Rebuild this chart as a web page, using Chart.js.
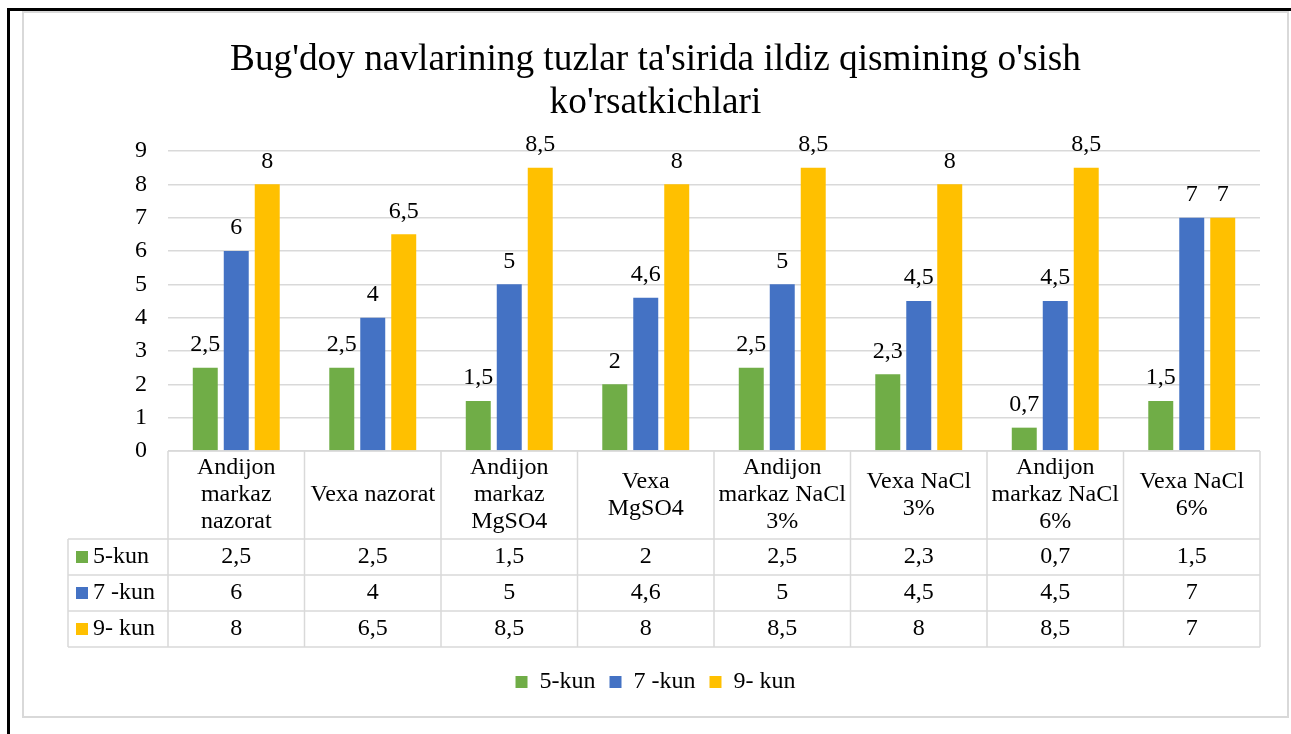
<!DOCTYPE html>
<html>
<head>
<meta charset="utf-8">
<script src="https://cdn.jsdelivr.net/npm/chart.js@4.4.1/dist/chart.umd.min.js"></script>
<style>
  body { margin: 0; background: #fff; }
  #frame { position: absolute; left: 7px; top: 8px; right: 0; bottom: 0; border-top: 3px solid #000; border-left: 3px solid #000; }
  #wrap { position: absolute; left: 22px; top: 11px; width: 1267px; height: 707px; }
</style>
</head>
<body>
<div id="frame"></div>
<div id="wrap"><canvas id="myChart" width="1267" height="707"></canvas></div>
<script>
// chart data
const categories = [
  ['Andijon', 'markaz', 'nazorat'],
  ['Vexa nazorat'],
  ['Andijon', 'markaz', 'MgSO4'],
  ['Vexa', 'MgSO4'],
  ['Andijon', 'markaz NaCl', '3%'],
  ['Vexa NaCl', '3%'],
  ['Andijon', 'markaz NaCl', '6%'],
  ['Vexa NaCl', '6%']
];
const seriesNames = ['5-kun', '7 -kun', '9- kun'];
const kun5 = [2.5, 2.5, 1.5, 2, 2.5, 2.3, 0.7, 1.5];
const kun7 = [6, 4, 5, 4.6, 5, 4.5, 4.5, 7];
const kun9 = [8, 6.5, 8.5, 8, 8.5, 8, 8.5, 7];
const colors = ['#70ad47', '#4472c4', '#ffc000'];
const titleLines = ["Bug'doy navlarining tuzlar ta'sirida ildiz qismining o'sish", "ko'rsatkichlari"];

const FONT = '"Liberation Serif", "Times New Roman", serif';
const fmt = v => String(v).replace('.', ',');

// gray chart border
const borderPlugin = {
  id: 'chartBorder',
  beforeDraw(chart) {
    const {ctx, width, height} = chart;
    ctx.save();
    ctx.fillStyle = '#fff';
    ctx.fillRect(0, 0, width, height);
    ctx.strokeStyle = '#d9d9d9';
    ctx.lineWidth = 2;
    ctx.strokeRect(1, 1, width - 2, height - 2);
    ctx.restore();
  }
};

// value labels above the bars
const valueLabels = {
  id: 'valueLabels',
  afterDatasetsDraw(chart) {
    const ctx = chart.ctx;
    ctx.save();
    ctx.font = '24px ' + FONT;
    ctx.fillStyle = '#000';
    ctx.textAlign = 'center';
    ctx.textBaseline = 'middle';
    chart.data.datasets.forEach((ds, i) => {
      chart.getDatasetMeta(i).data.forEach((bar, j) => {
        ctx.fillText(fmt(ds.data[j]), bar.x, bar.y - 23);
      });
    });
    ctx.restore();
  }
};

// data table under the plot
const dataTable = {
  id: 'dataTable',
  afterDraw(chart) {
    const {ctx, chartArea} = chart;
    const x = chart.scales.x;
    const n = categories.length;
    const step = (chartArea.right - chartArea.left) / n;
    const top = chartArea.bottom;
    const headH = 88, rowH = 36, keyLeft = 46;
    const left = chartArea.left, right = chartArea.right;
    const rows = chart.data.datasets.length;
    const bottom = top + headH + rows * rowH;

    ctx.save();
    ctx.strokeStyle = '#d9d9d9';
    ctx.lineWidth = 1.5;
    ctx.beginPath();
    ctx.moveTo(left, top); ctx.lineTo(right, top);
    for (let r = 0; r <= rows; r++) {
      const y = top + headH + r * rowH;
      ctx.moveTo(keyLeft, y); ctx.lineTo(right, y);
    }
    for (let i = 0; i <= n; i++) {
      const xx = left + i * step;
      ctx.moveTo(xx, top); ctx.lineTo(xx, bottom);
    }
    ctx.moveTo(keyLeft, top + headH); ctx.lineTo(keyLeft, bottom);
    ctx.stroke();

    ctx.font = '24px ' + FONT;
    ctx.fillStyle = '#000';
    ctx.textAlign = 'center';
    ctx.textBaseline = 'middle';
    const lh = 27;
    categories.forEach((lines, i) => {
      const cx = x.getPixelForValue(i);
      const y0 = top + headH / 2 - (lines.length - 1) * lh / 2;
      lines.forEach((t, k) => ctx.fillText(t, cx, y0 + k * lh));
    });
    chart.data.datasets.forEach((ds, r) => {
      const cy = top + headH + r * rowH + rowH / 2;
      ds.data.forEach((v, i) => ctx.fillText(fmt(v), x.getPixelForValue(i), cy));
      ctx.fillStyle = ds.backgroundColor;
      ctx.fillRect(keyLeft + 8, cy - 6, 12, 12);
      ctx.fillStyle = '#000';
      ctx.textAlign = 'left';
      ctx.fillText(ds.label, keyLeft + 25, cy);
      ctx.textAlign = 'center';
    });
    ctx.restore();
  }
};

var ctx = document.getElementById('myChart').getContext('2d');
var myChart = new Chart(ctx, {
  type: 'bar',
  data: {
    labels: categories.map(c => c.join(' ')),
    datasets: [
      { label: seriesNames[0], data: kun5, backgroundColor: colors[0] },
      { label: seriesNames[1], data: kun7, backgroundColor: colors[1] },
      { label: seriesNames[2], data: kun9, backgroundColor: colors[2] }
    ]
  },
  options: {
    responsive: false,
    animation: false,
    categoryPercentage: 0.681,
    barPercentage: 0.806,
    layout: { padding: { left: 0, right: 0, top: 0, bottom: 14 } },
    scales: {
      x: {
        ticks: { display: false },
        grid: { display: false },
        border: { display: false },
        afterFit: s => { s.height = 205; }
      },
      y: {
        min: 0, max: 9,
        ticks: { stepSize: 1, padding: 21, color: '#000', font: { family: FONT, size: 24 } },
        grid: { color: '#d9d9d9', lineWidth: 1.5, drawTicks: false },
        border: { display: false },
        afterFit: s => { s.width = 146; }
      },
      // empty right margin so title and legend centre on the full width
      yRight: {
        position: 'right',
        min: 0, max: 9,
        ticks: { display: false },
        grid: { display: false },
        border: { display: false },
        afterFit: s => { s.width = 29; }
      }
    },
    plugins: {
      title: {
        display: true,
        text: titleLines,
        color: '#000',
        font: { family: FONT, size: 37.3, weight: 'normal', lineHeight: '43px' },
        padding: { top: 27.5, bottom: 26.5 }
      },
      legend: {
        position: 'bottom',
        labels: { color: '#000', boxWidth: 12, boxHeight: 12, padding: 14, font: { family: FONT, size: 24 } }
      },
      tooltip: { enabled: false }
    }
  },
  plugins: [borderPlugin, valueLabels, dataTable]
});
</script>
</body>
</html>
